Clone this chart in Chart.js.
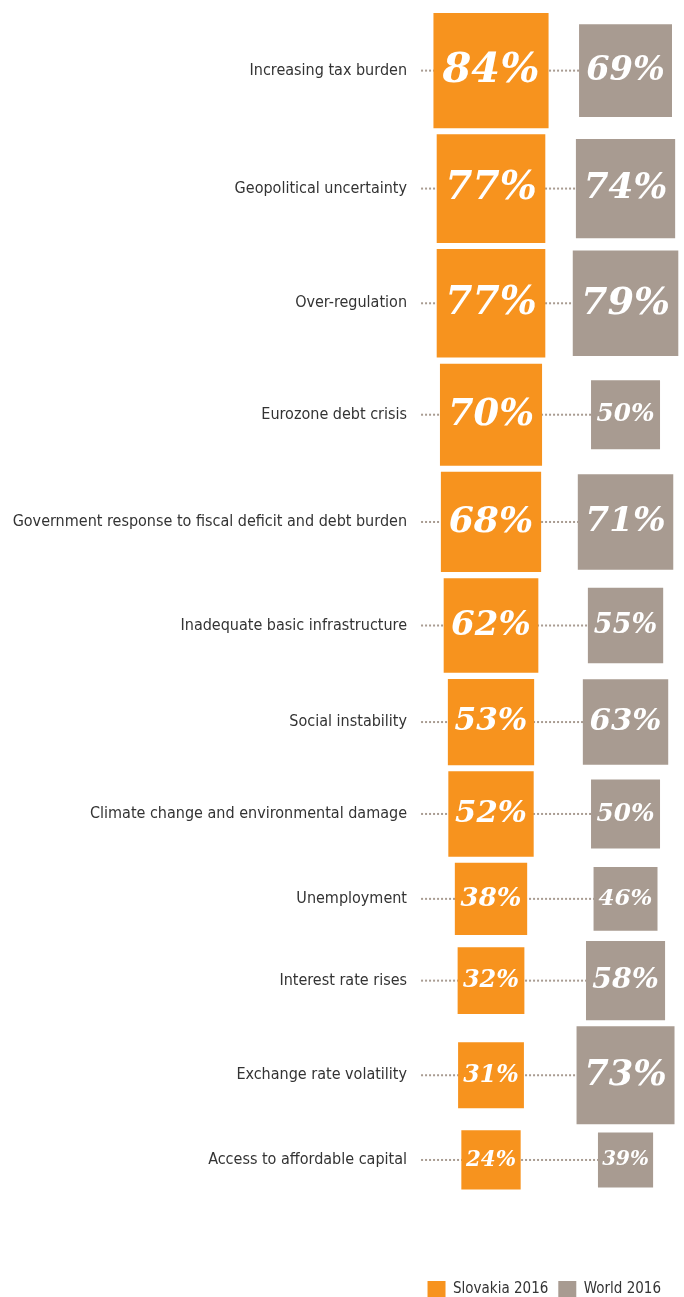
<!DOCTYPE html>
<html>
<head>
<meta charset="utf-8">
<script src="https://cdn.jsdelivr.net/npm/chart.js@4.4.1/dist/chart.umd.min.js"></script>
<style>
    html, body { margin: 0; padding: 0; background: #fff; }
    #wrap { width: 684px; height: 1297px; }
</style>
</head>
<body>
<div id="wrap"><canvas id="threats"></canvas></div>
<script>
// Threats to business growth, share of CEOs concerned
const categories = [
    'Increasing tax burden',
    'Geopolitical uncertainty',
    'Over-regulation',
    'Eurozone debt crisis',
    'Government response to fiscal deficit and debt burden',
    'Inadequate basic infrastructure',
    'Social instability',
    'Climate change and environmental damage',
    'Unemployment',
    'Interest rate rises',
    'Exchange rate volatility',
    'Access to affordable capital'
];
const slovakia2016 = [84, 77, 77, 70, 68, 62, 53, 52, 38, 32, 31, 24];
const world2016 = [69, 74, 79, 50, 71, 55, 63, 50, 46, 58, 73, 39];
const seriesLabels = ['Slovakia 2016', 'World 2016'];
const seriesValues = [slovakia2016, world2016];

const ORANGE = '#f7931e';
const TAUPE = '#a89b91';
const LABEL_FONT = "'Liberation Sans Narrow', 'DejaVu Sans Condensed', 'Noto Sans', sans-serif";

// side of a square (px) for a percentage
function sideSlovakia(v) { return 0.93 * v + 37; }
function sideWorld(v) { return 1.26 * v + 6; }

// rows are stacked: each one is as tall as its bigger square, plus a gap
const ROW_TOP = 13, ROW_GAP = 6, Y_MAX = 1270;
const rowY = [];
let cursor = ROW_TOP;
categories.forEach((_, i) => {
    const h = Math.max(sideSlovakia(slovakia2016[i]), sideWorld(world2016[i]));
    rowY.push(cursor + h / 2);
    cursor += h + ROW_GAP;
});

// x positions of the two columns and the start of the dotted leaders
const X_SLOVAKIA = 1, X_WORLD = 2, X_LEADER = 0.48;

function squares(values, x, sideFn) {
    return values.map((v, i) => ({ x: x, y: rowY[i], r: sideFn(v) / Math.SQRT2 }));
}

const leaders = rowY.map(y => ({
    type: 'line',
    data: [{ x: X_LEADER, y: y }, { x: X_WORLD, y: y }],
    borderColor: TAUPE,
    borderWidth: 2,
    borderDash: [2, 2],
    pointRadius: 0,
    clip: false,
    order: 5
}));

// percentages written inside the squares
const valueLabels = {
    id: 'valueLabels',
    afterDatasetsDraw(chart) {
        const ctx = chart.ctx;
        ctx.save();
        ctx.fillStyle = '#fff';
        ctx.textAlign = 'center';
        ctx.textBaseline = 'alphabetic';
        seriesValues.forEach((values, di) => {
            chart.getDatasetMeta(di).data.forEach((pt, i) => {
                const side = pt.options.radius * Math.SQRT2;
                const size = side * 0.36;
                ctx.font = 'italic bold ' + size.toFixed(1) + 'px "DejaVu Serif", serif';
                ctx.fillText(values[i] + '%', pt.x, pt.y + size * 0.27);
            });
        });
        ctx.restore();
    }
};

new Chart(document.getElementById('threats'), {
    type: 'bubble',
    data: {
        datasets: [
            {
                label: seriesLabels[0],
                data: squares(slovakia2016, X_SLOVAKIA, sideSlovakia),
                backgroundColor: ORANGE,
                borderWidth: 0,
                pointStyle: 'rect',
                clip: false,
                order: 1
            },
            {
                label: seriesLabels[1],
                data: squares(world2016, X_WORLD, sideWorld),
                backgroundColor: TAUPE,
                borderWidth: 0,
                pointStyle: 'rect',
                clip: false,
                order: 1
            }
        ].concat(leaders)
    },
    options: {
        responsive: true,
        maintainAspectRatio: false,
        animation: false,
        layout: { autoPadding: false, padding: { top: 0, left: 0, right: 13, bottom: -10 } },
        scales: {
            x: {
                type: 'linear',
                display: false,
                min: 0.435,
                max: 2.338
            },
            y: {
                type: 'linear',
                reverse: true,
                min: 0,
                max: Y_MAX,
                afterBuildTicks: axis => { axis.ticks = rowY.map(value => ({ value: value })); },
                afterFit: axis => {
                    axis.width = 415;
                    axis.paddingTop = 0;
                    axis.paddingBottom = 0;
                },
                grid: { display: false, drawTicks: false },
                border: { display: false },
                ticks: {
                    autoSkip: false,
                    padding: 8,
                    color: '#333',
                    font: { family: LABEL_FONT, size: 16 },
                    callback: (value, index) => categories[index]
                }
            }
        },
        plugins: {
            tooltip: { enabled: false },
            legend: {
                position: 'bottom',
                align: 'end',
                labels: {
                    boxWidth: 18,
                    boxHeight: 16,
                    padding: 10,
                    color: '#333',
                    font: { family: LABEL_FONT, size: 15 },
                    filter: item => item.datasetIndex < 2
                }
            }
        }
    },
    plugins: [valueLabels]
});
</script>
</body>
</html>
